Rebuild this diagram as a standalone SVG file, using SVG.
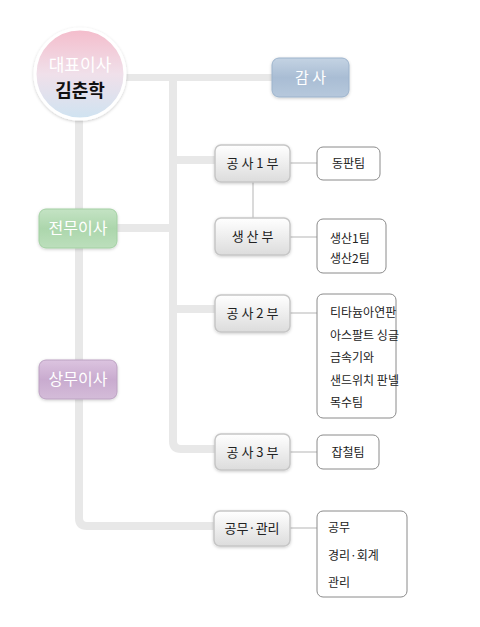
<svg xmlns="http://www.w3.org/2000/svg" width="480" height="627" viewBox="0 0 480 627">
<defs>
<linearGradient id="gNode" x1="0" y1="0" x2="0" y2="1"><stop offset="0" stop-color="#ffffff"/><stop offset="1" stop-color="#dcdcdc"/></linearGradient>
<linearGradient id="gBlue" x1="0" y1="0" x2="0" y2="1"><stop offset="0" stop-color="#c4d3e3"/><stop offset="0.5" stop-color="#a9bdd4"/><stop offset="1" stop-color="#b6c8dc"/></linearGradient>
<linearGradient id="gGreen" x1="0" y1="0" x2="0" y2="1"><stop offset="0" stop-color="#c4e3c4"/><stop offset="0.5" stop-color="#acd6ac"/><stop offset="1" stop-color="#bcdfbc"/></linearGradient>
<linearGradient id="gPurple" x1="0" y1="0" x2="0" y2="1"><stop offset="0" stop-color="#dcc4e0"/><stop offset="0.5" stop-color="#c9abcf"/><stop offset="1" stop-color="#d4bcd9"/></linearGradient>
<linearGradient id="gCeo" x1="0" y1="0" x2="0" y2="1"><stop offset="0" stop-color="#f4bccb"/><stop offset="0.5" stop-color="#f0e0ea"/><stop offset="1" stop-color="#cfe3f1"/></linearGradient>
<filter id="sh" x="-20%" y="-20%" width="140%" height="140%"><feDropShadow dx="0" dy="1" stdDeviation="1.5" flood-color="#000" flood-opacity="0.2"/></filter>
</defs>
<style>
.thick{fill:none;stroke:#e8e8e8;stroke-width:8;stroke-linejoin:round}
.thin{fill:none;stroke:#dadada;stroke-width:2}
.node{fill:url(#gNode);stroke:#c6c6c6;stroke-width:1.5}
.box{fill:#fff;stroke:#8a8a8a;stroke-width:1}
.t{font-family:"Noto Sans CJK KR","Noto Sans",sans-serif;font-size:13px;fill:#222}
.d{font-size:12px}
.w{font-family:"Noto Sans CJK KR","Noto Sans",sans-serif;font-size:16px;fill:#fff}
.c{text-anchor:middle}
</style>
<g id="connectors">
<path class="thick" d="M110 77.5 H272" style="stroke-width:7"/>
<path class="thick" d="M173 78 V441 Q173 449 181 449 H215"/>
<path class="thick" d="M173 160 H215"/>
<path class="thick" d="M117 228 H173"/>
<path class="thick" d="M173 309 H215"/>
<path class="thick" d="M79 110 V518 Q79 526 87 526 H214"/>
<path class="thin" d="M290 163 H317"/>
<path class="thin" d="M253 182 V218"/>
<path class="thin" d="M290 237 H317"/>
<path class="thin" d="M290 313 H317"/>
<path class="thin" d="M290 452 H317"/>
<path class="thin" d="M290 528 H317"/>
</g>
<g id="ceo">
<circle cx="80" cy="74" r="45" fill="url(#gCeo)" stroke="#fff" stroke-width="3" filter="url(#sh)"/>
<text class="w c" x="80" y="71" style="font-size:17px">대표이사</text>
<text class="t c" x="80" y="97" style="font-size:18px;fill:#111;font-weight:bold">김춘학</text>
</g>
<g id="audit">
<rect x="272" y="58" width="77" height="39" rx="7" fill="url(#gBlue)" stroke="#9cb3cc" filter="url(#sh)"/>
<text class="w c" x="310.5" y="83" style="font-size:15px">감 사</text>
</g>
<g id="jeonmu">
<rect x="39" y="209" width="78" height="39" rx="7" fill="url(#gGreen)" stroke="#a3d0a3" filter="url(#sh)"/>
<text class="w c" x="78" y="234">전무이사</text>
</g>
<g id="sangmu">
<rect x="39" y="360" width="78" height="39" rx="7" fill="url(#gPurple)" stroke="#bca2c2" filter="url(#sh)"/>
<text class="w c" x="78" y="385">상무이사</text>
</g>
<g id="gongsa1">
<rect class="node" x="215" y="145" width="75" height="37" rx="6" filter="url(#sh)"/>
<text class="t c" x="252.5" y="168">공 사 1 부</text>
</g>
<g id="dongpan">
<rect class="box" x="317" y="147" width="63" height="33" rx="6"/>
<text class="t d c" x="348.5" y="168">동판팀</text>
</g>
<g id="saengsan">
<rect class="node" x="215" y="218" width="75" height="37" rx="6" filter="url(#sh)"/>
<text class="t c" x="252.5" y="241">생 산 부</text>
</g>
<g id="saengsanTeams">
<rect class="box" x="317" y="219" width="69" height="54" rx="6"/>
<text class="t d" x="330" y="242.5">생산1팀</text>
<text class="t d" x="330" y="262.5">생산2팀</text>
</g>
<g id="gongsa2">
<rect class="node" x="215" y="295" width="75" height="37" rx="6" filter="url(#sh)"/>
<text class="t c" x="252.5" y="318">공 사 2 부</text>
</g>
<g id="gongsa2Teams">
<rect class="box" x="317" y="294" width="79" height="124" rx="6"/>
<text class="t d" x="330" y="316.5">티타늄아연판</text>
<text class="t d" x="330" y="339.5">아스팔트 싱글</text>
<text class="t d" x="330" y="361.5">금속기와</text>
<text class="t d" x="330" y="384.5">샌드위치 판넬</text>
<text class="t d" x="330" y="406.5">목수팀</text>
</g>
<g id="gongsa3">
<rect class="node" x="215" y="434" width="75" height="36" rx="6" filter="url(#sh)"/>
<text class="t c" x="252.5" y="456.5">공 사 3 부</text>
</g>
<g id="japcheol">
<rect class="box" x="317" y="435" width="62" height="34" rx="6"/>
<text class="t d c" x="348" y="456.5">잡철팀</text>
</g>
<g id="gongmu">
<rect class="node" x="214" y="511" width="76" height="35" rx="6" filter="url(#sh)"/>
<text class="t c" x="252" y="532.5">공무·관리</text>
</g>
<g id="gongmuTeams">
<rect class="box" x="317" y="511" width="90" height="86" rx="6"/>
<text class="t d" x="328" y="531.5">공무</text>
<text class="t d" x="328" y="559.5">경리·회계</text>
<text class="t d" x="328" y="586.5">관리</text>
</g>
</svg>
